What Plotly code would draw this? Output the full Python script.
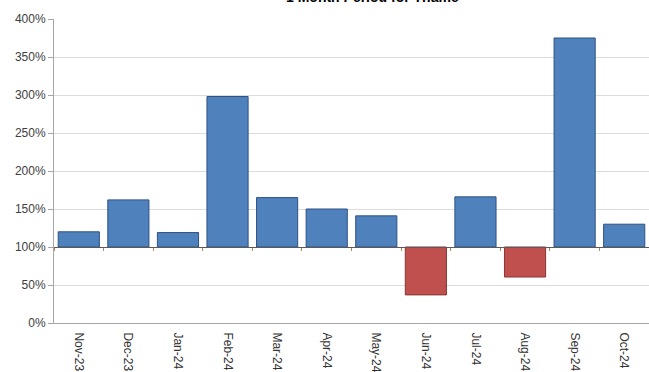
import plotly.graph_objects as go

# Monthly ratios (1.0 = 100%)
months = ["Nov-23", "Dec-23", "Jan-24", "Feb-24", "Mar-24", "Apr-24",
          "May-24", "Jun-24", "Jul-24", "Aug-24", "Sep-24", "Oct-24"]
ratio = [1.20, 1.62, 1.19, 2.98, 1.65, 1.50, 1.41, 0.37, 1.66, 0.605, 3.75, 1.30]

title_text = "1 Month Period for Thame"
baseline = 1.0

blue, blue_edge = "#4F81BD", "#2E5283"
red, red_edge = "#C0504D", "#8A3431"
fill = [blue if v >= baseline else red for v in ratio]
edge = [blue_edge if v >= baseline else red_edge for v in ratio]

font = "Liberation Sans, Arial, sans-serif"

fig = go.Figure()

# Bars grow from the 100% line
fig.add_trace(go.Bar(
    x=months,
    y=[v - baseline for v in ratio],
    base=baseline,
    marker=dict(color=fill, line=dict(color=edge, width=1)),
    xaxis="x2",
    hoverinfo="skip",
    showlegend=False,
))

# Invisible trace that carries the bottom category labels
fig.add_trace(go.Scatter(
    x=months, y=ratio, mode="markers",
    marker=dict(opacity=0), hoverinfo="skip", showlegend=False,
    xaxis="x",
))

fig.update_layout(
    width=649, height=372,
    margin=dict(l=54, r=0, t=19, b=49),
    paper_bgcolor="white", plot_bgcolor="white",
    font=dict(family=font, size=12, color="#404040"),
    bargap=0.17,
    xaxis=dict(
        type="category", categoryorder="array", categoryarray=months,
        range=[-0.5, len(months) - 0.5],
        showline=True, linecolor="#a6a6a6", linewidth=1,
        showgrid=False, ticks="", tickangle=90,
        ticklabelstandoff=6,
        tickfont=dict(family=font, size=12, color="#333333"),
        fixedrange=True,
    ),
    xaxis2=dict(
        type="category", categoryorder="array", categoryarray=months,
        range=[-0.5, len(months) - 0.5],
        overlaying="x", anchor="free", position=0.25,
        showline=True, linecolor="#5a5a5a", linewidth=1,
        ticks="outside", ticklen=3, tickcolor="#b08a5a", tickwidth=1,
        tickson="boundaries",
        showticklabels=False, showgrid=False,
    ),
    yaxis=dict(
        range=[0, 4], dtick=0.5, tickformat=".0%",
        showgrid=True, gridcolor="#dcdcdc", gridwidth=1,
        showline=True, linecolor="#a6a6a6", linewidth=1,
        ticks="outside", ticklen=5, tickcolor="#a6a6a6",
        tickfont=dict(family=font, size=12, color="#404040"),
        zeroline=False,
    ),
    annotations=[dict(
        text="<b>" + title_text + "</b>",
        xref="paper", yref="paper", x=0.536, y=1,
        xanchor="center", yanchor="bottom", yshift=12,
        showarrow=False,
        font=dict(family=font, size=14, color="#000000"),
    )],
)

fig.write_html("out.html")
